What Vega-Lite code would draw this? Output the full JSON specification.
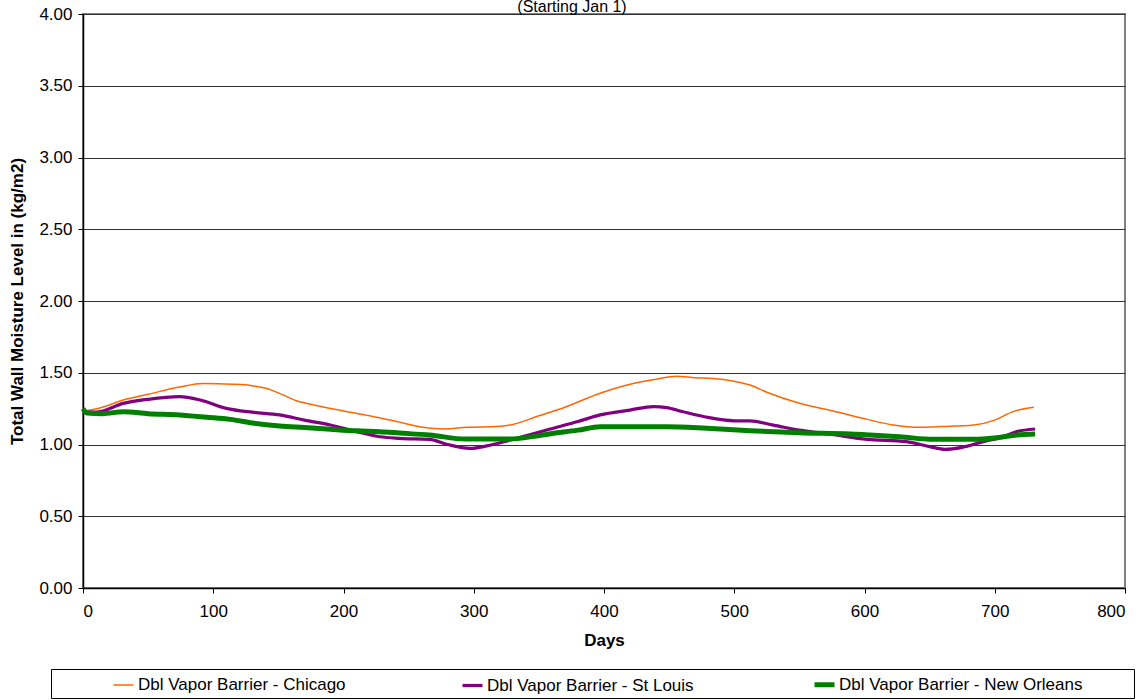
{
  "$schema": "https://vega.github.io/schema/vega-lite/v6.json",
  "autosize": {"type": "none"},
  "width": 1042,
  "height": 574,
  "padding": {"left": 83, "top": 14, "right": 20, "bottom": 112},
  "background": "white",
  "title": {"text": "(Starting Jan 1)", "fontSize": 16, "font": "Liberation Sans", "fontWeight": "normal", "color": "black", "anchor": "middle", "dx": -32, "offset": 0, "dy": 26, "baseline": "bottom"},
  "config": {
    "font": "Liberation Sans",
    "view": {"stroke": "#808080", "strokeWidth": 2},
    "axis": {"labelFont": "Liberation Sans", "labelFontSize": 17, "labelColor": "black", "titleFont": "Liberation Sans", "titleFontSize": 17, "titleFontWeight": "bold", "titleColor": "black", "domainColor": "black", "domainWidth": 1.5, "tickColor": "black", "tickSize": 5, "gridColor": "#333333", "gridWidth": 1, "gridOpacity": 1}
  },
  "data": {"values": [
    {"series":"Dbl Vapor Barrier - Chicago","day":0,"v":1.23},
    {"series":"Dbl Vapor Barrier - Chicago","day":15,"v":1.26},
    {"series":"Dbl Vapor Barrier - Chicago","day":31,"v":1.31},
    {"series":"Dbl Vapor Barrier - Chicago","day":50,"v":1.35},
    {"series":"Dbl Vapor Barrier - Chicago","day":74,"v":1.40},
    {"series":"Dbl Vapor Barrier - Chicago","day":92,"v":1.425},
    {"series":"Dbl Vapor Barrier - Chicago","day":115,"v":1.42},
    {"series":"Dbl Vapor Barrier - Chicago","day":130,"v":1.41},
    {"series":"Dbl Vapor Barrier - Chicago","day":141,"v":1.39},
    {"series":"Dbl Vapor Barrier - Chicago","day":150,"v":1.36},
    {"series":"Dbl Vapor Barrier - Chicago","day":164,"v":1.305},
    {"series":"Dbl Vapor Barrier - Chicago","day":180,"v":1.27},
    {"series":"Dbl Vapor Barrier - Chicago","day":202,"v":1.23},
    {"series":"Dbl Vapor Barrier - Chicago","day":220,"v":1.20},
    {"series":"Dbl Vapor Barrier - Chicago","day":241,"v":1.16},
    {"series":"Dbl Vapor Barrier - Chicago","day":261,"v":1.12},
    {"series":"Dbl Vapor Barrier - Chicago","day":277,"v":1.108},
    {"series":"Dbl Vapor Barrier - Chicago","day":295,"v":1.12},
    {"series":"Dbl Vapor Barrier - Chicago","day":318,"v":1.125},
    {"series":"Dbl Vapor Barrier - Chicago","day":330,"v":1.14},
    {"series":"Dbl Vapor Barrier - Chicago","day":350,"v":1.20},
    {"series":"Dbl Vapor Barrier - Chicago","day":370,"v":1.26},
    {"series":"Dbl Vapor Barrier - Chicago","day":397,"v":1.357},
    {"series":"Dbl Vapor Barrier - Chicago","day":420,"v":1.42},
    {"series":"Dbl Vapor Barrier - Chicago","day":440,"v":1.455},
    {"series":"Dbl Vapor Barrier - Chicago","day":456,"v":1.475},
    {"series":"Dbl Vapor Barrier - Chicago","day":470,"v":1.465},
    {"series":"Dbl Vapor Barrier - Chicago","day":484,"v":1.46},
    {"series":"Dbl Vapor Barrier - Chicago","day":500,"v":1.44},
    {"series":"Dbl Vapor Barrier - Chicago","day":512,"v":1.415},
    {"series":"Dbl Vapor Barrier - Chicago","day":525,"v":1.364},
    {"series":"Dbl Vapor Barrier - Chicago","day":550,"v":1.287},
    {"series":"Dbl Vapor Barrier - Chicago","day":576,"v":1.233},
    {"series":"Dbl Vapor Barrier - Chicago","day":602,"v":1.175},
    {"series":"Dbl Vapor Barrier - Chicago","day":622,"v":1.136},
    {"series":"Dbl Vapor Barrier - Chicago","day":643,"v":1.12},
    {"series":"Dbl Vapor Barrier - Chicago","day":660,"v":1.125},
    {"series":"Dbl Vapor Barrier - Chicago","day":684,"v":1.136},
    {"series":"Dbl Vapor Barrier - Chicago","day":700,"v":1.17},
    {"series":"Dbl Vapor Barrier - Chicago","day":714,"v":1.229},
    {"series":"Dbl Vapor Barrier - Chicago","day":730,"v":1.259},
    {"series":"Dbl Vapor Barrier - St Louis","day":0,"v":1.225},
    {"series":"Dbl Vapor Barrier - St Louis","day":10,"v":1.225},
    {"series":"Dbl Vapor Barrier - St Louis","day":31,"v":1.287},
    {"series":"Dbl Vapor Barrier - St Louis","day":50,"v":1.315},
    {"series":"Dbl Vapor Barrier - St Louis","day":74,"v":1.333},
    {"series":"Dbl Vapor Barrier - St Louis","day":90,"v":1.31},
    {"series":"Dbl Vapor Barrier - St Louis","day":110,"v":1.252},
    {"series":"Dbl Vapor Barrier - St Louis","day":130,"v":1.225},
    {"series":"Dbl Vapor Barrier - St Louis","day":151,"v":1.206},
    {"series":"Dbl Vapor Barrier - St Louis","day":170,"v":1.17},
    {"series":"Dbl Vapor Barrier - St Louis","day":190,"v":1.136},
    {"series":"Dbl Vapor Barrier - St Louis","day":210,"v":1.09},
    {"series":"Dbl Vapor Barrier - St Louis","day":228,"v":1.054},
    {"series":"Dbl Vapor Barrier - St Louis","day":243,"v":1.043},
    {"series":"Dbl Vapor Barrier - St Louis","day":266,"v":1.036},
    {"series":"Dbl Vapor Barrier - St Louis","day":280,"v":1.00},
    {"series":"Dbl Vapor Barrier - St Louis","day":297,"v":0.973},
    {"series":"Dbl Vapor Barrier - St Louis","day":310,"v":0.99},
    {"series":"Dbl Vapor Barrier - St Louis","day":328,"v":1.031},
    {"series":"Dbl Vapor Barrier - St Louis","day":340,"v":1.06},
    {"series":"Dbl Vapor Barrier - St Louis","day":358,"v":1.106},
    {"series":"Dbl Vapor Barrier - St Louis","day":380,"v":1.16},
    {"series":"Dbl Vapor Barrier - St Louis","day":397,"v":1.206},
    {"series":"Dbl Vapor Barrier - St Louis","day":420,"v":1.24},
    {"series":"Dbl Vapor Barrier - St Louis","day":438,"v":1.264},
    {"series":"Dbl Vapor Barrier - St Louis","day":448,"v":1.257},
    {"series":"Dbl Vapor Barrier - St Louis","day":460,"v":1.23},
    {"series":"Dbl Vapor Barrier - St Louis","day":479,"v":1.19},
    {"series":"Dbl Vapor Barrier - St Louis","day":500,"v":1.165},
    {"series":"Dbl Vapor Barrier - St Louis","day":512,"v":1.164},
    {"series":"Dbl Vapor Barrier - St Louis","day":530,"v":1.135},
    {"series":"Dbl Vapor Barrier - St Louis","day":550,"v":1.10},
    {"series":"Dbl Vapor Barrier - St Louis","day":575,"v":1.07},
    {"series":"Dbl Vapor Barrier - St Louis","day":602,"v":1.036},
    {"series":"Dbl Vapor Barrier - St Louis","day":632,"v":1.02},
    {"series":"Dbl Vapor Barrier - St Louis","day":650,"v":0.985},
    {"series":"Dbl Vapor Barrier - St Louis","day":662,"v":0.966},
    {"series":"Dbl Vapor Barrier - St Louis","day":675,"v":0.98},
    {"series":"Dbl Vapor Barrier - St Louis","day":691,"v":1.02},
    {"series":"Dbl Vapor Barrier - St Louis","day":705,"v":1.05},
    {"series":"Dbl Vapor Barrier - St Louis","day":717,"v":1.09},
    {"series":"Dbl Vapor Barrier - St Louis","day":731,"v":1.108},
    {"series":"Dbl Vapor Barrier - New Orleans","day":0,"v":1.25},
    {"series":"Dbl Vapor Barrier - New Orleans","day":3,"v":1.22},
    {"series":"Dbl Vapor Barrier - New Orleans","day":15,"v":1.215},
    {"series":"Dbl Vapor Barrier - New Orleans","day":31,"v":1.229},
    {"series":"Dbl Vapor Barrier - New Orleans","day":50,"v":1.215},
    {"series":"Dbl Vapor Barrier - New Orleans","day":74,"v":1.206},
    {"series":"Dbl Vapor Barrier - New Orleans","day":95,"v":1.19},
    {"series":"Dbl Vapor Barrier - New Orleans","day":113,"v":1.175},
    {"series":"Dbl Vapor Barrier - New Orleans","day":130,"v":1.15},
    {"series":"Dbl Vapor Barrier - New Orleans","day":151,"v":1.129},
    {"series":"Dbl Vapor Barrier - New Orleans","day":170,"v":1.118},
    {"series":"Dbl Vapor Barrier - New Orleans","day":190,"v":1.106},
    {"series":"Dbl Vapor Barrier - New Orleans","day":210,"v":1.095},
    {"series":"Dbl Vapor Barrier - New Orleans","day":228,"v":1.089},
    {"series":"Dbl Vapor Barrier - New Orleans","day":243,"v":1.08},
    {"series":"Dbl Vapor Barrier - New Orleans","day":266,"v":1.066},
    {"series":"Dbl Vapor Barrier - New Orleans","day":294,"v":1.038},
    {"series":"Dbl Vapor Barrier - New Orleans","day":310,"v":1.038},
    {"series":"Dbl Vapor Barrier - New Orleans","day":328,"v":1.038},
    {"series":"Dbl Vapor Barrier - New Orleans","day":345,"v":1.055},
    {"series":"Dbl Vapor Barrier - New Orleans","day":358,"v":1.073},
    {"series":"Dbl Vapor Barrier - New Orleans","day":380,"v":1.10},
    {"series":"Dbl Vapor Barrier - New Orleans","day":397,"v":1.124},
    {"series":"Dbl Vapor Barrier - New Orleans","day":420,"v":1.124},
    {"series":"Dbl Vapor Barrier - New Orleans","day":448,"v":1.124},
    {"series":"Dbl Vapor Barrier - New Orleans","day":479,"v":1.113},
    {"series":"Dbl Vapor Barrier - New Orleans","day":512,"v":1.096},
    {"series":"Dbl Vapor Barrier - New Orleans","day":550,"v":1.082},
    {"series":"Dbl Vapor Barrier - New Orleans","day":589,"v":1.073},
    {"series":"Dbl Vapor Barrier - New Orleans","day":627,"v":1.054},
    {"series":"Dbl Vapor Barrier - New Orleans","day":653,"v":1.036},
    {"series":"Dbl Vapor Barrier - New Orleans","day":684,"v":1.036},
    {"series":"Dbl Vapor Barrier - New Orleans","day":700,"v":1.045},
    {"series":"Dbl Vapor Barrier - New Orleans","day":717,"v":1.066},
    {"series":"Dbl Vapor Barrier - New Orleans","day":731,"v":1.073}
  ]},
  "mark": {"type": "line", "interpolate": "monotone"},
  "encoding": {
    "x": {"field": "day", "type": "quantitative", "title": "Days",
          "scale": {"domain": [0, 800], "nice": false},
          "axis": {"values": [0,100,200,300,400,500,600,700,800], "grid": false, "labelPadding": 10, "titlePadding": 13}},
    "y": {"field": "v", "type": "quantitative", "title": "Total Wall Moisture Level in (kg/m2)",
          "scale": {"domain": [0, 4], "nice": false},
          "axis": {"values": [0,0.5,1,1.5,2,2.5,3,3.5,4], "format": ".2f", "grid": true, "labelPadding": 6, "titlePadding": 12}},
    "color": {"field": "series", "type": "nominal",
              "scale": {"domain": ["Dbl Vapor Barrier - Chicago","Dbl Vapor Barrier - St Louis","Dbl Vapor Barrier - New Orleans"], "range": ["#FF6600","#800080","#008000"]},
              "legend": {"title": " ", "titleOrient": "left", "titleFontSize": 1, "titlePadding": 57,
                         "orient": "none", "legendX": -32, "legendY": 655, "direction": "horizontal", "columns": 3,
                         "columnPadding": 110, "padding": 3, "strokeColor": "black", "fillColor": "white",
                         "symbolType": "stroke", "symbolSize": 400, "labelOffset": 2,
                         "labelFont": "Liberation Sans", "labelFontSize": 17, "labelColor": "black", "labelLimit": 500,
                         "labelExpr": "indexof(datum.label, 'Orleans') > 0 ? datum.label + '\u2800\u2800\u2800\u2800' : datum.label"}},
    "strokeWidth": {"field": "series", "type": "nominal",
              "scale": {"domain": ["Dbl Vapor Barrier - Chicago","Dbl Vapor Barrier - St Louis","Dbl Vapor Barrier - New Orleans"], "range": [1.5, 5, 6]},
              "legend": null}
  }
}
